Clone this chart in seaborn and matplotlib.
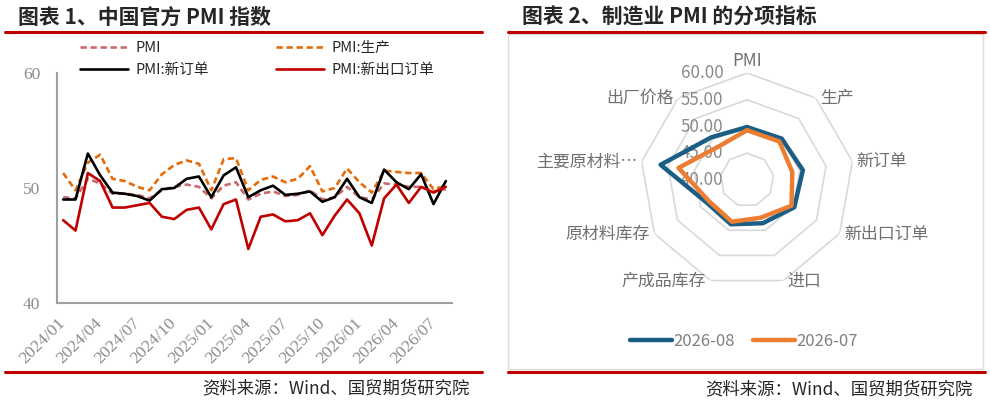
import numpy as np
import pandas as pd
import seaborn as sns
import matplotlib.pyplot as plt
from matplotlib.lines import Line2D
from matplotlib.patches import Rectangle

# monthly series, 2024/01 - 2026/08
months = pd.date_range('2024-01-01', periods=32, freq='MS').strftime('%Y/%m').tolist()
pmi = [49.2, 49.1, 50.8, 50.4, 49.5, 49.5, 49.4, 49.1, 49.8, 50.1, 50.3, 50.1,
       49.1, 50.2, 50.5, 49.0, 49.5, 49.7, 49.3, 49.4, 49.8, 49.0, 49.2, 50.1,
       49.2, 49.0, 50.4, 50.3, 50.1, 50.1, 49.7, 49.9]
production = [51.3, 49.8, 52.2, 52.9, 50.8, 50.6, 50.1, 49.8, 51.2, 52.0, 52.4, 52.1,
              49.8, 52.5, 52.6, 49.8, 50.7, 51.0, 50.5, 50.8, 51.9, 49.7, 50.0, 51.7,
              50.5, 49.6, 51.5, 51.4, 51.3, 51.3, 49.9, 50.2]
new_orders = [49.0, 49.0, 53.0, 51.1, 49.6, 49.5, 49.3, 48.9, 49.9, 50.0, 50.8, 51.0,
              49.2, 51.1, 51.8, 49.2, 49.8, 50.2, 49.4, 49.5, 49.7, 48.8, 49.2, 50.8,
              49.2, 48.7, 51.6, 50.5, 49.9, 51.2, 48.6, 50.6]
export_orders = [47.2, 46.3, 51.3, 50.6, 48.3, 48.3, 48.5, 48.7, 47.5, 47.3, 48.1, 48.3,
                 46.4, 48.6, 49.0, 44.7, 47.5, 47.7, 47.1, 47.2, 47.8, 45.9, 47.6, 49.0,
                 47.8, 45.0, 49.1, 50.3, 48.7, 50.1, 49.6, 50.1]

# radar: PMI sub-indices
radar_cats = ['PMI', '生产', '新订单', '新出口订单', '进口', '产成品库存',
              '原材料库存', '主要原材料…', '出厂价格']
aug_2026 = [49.9, 50.1, 50.6, 50.2, 48.6, 48.8, 48.6, 56.4, 50.4]
jul_2026 = [49.3, 49.4, 48.6, 49.6, 47.5, 48.3, 48.1, 53.0, 48.2]
radar_levels = [40, 45, 50, 55, 60]

sns.set_style('white')
plt.rcParams['font.family'] = ['Noto Sans CJK SC', 'DejaVu Sans']

W, H = 990, 403
fx = lambda px: px / W
fy = lambda py: 1 - py / H

fig = plt.figure(figsize=(9.9, 4.03), dpi=100)

# ---- left: line chart
ax = fig.add_axes([fx(57), fy(303), 395 / W, 230 / H])
idx = np.arange(len(months))
series = [
    ('PMI', pmi, '#c96a6e', (0, (2.4, 1.4))),
    ('PMI:生产', production, '#e46c0a', (0, (2.4, 1.4))),
    ('PMI:新订单', new_orders, '#000000', '-'),
    ('PMI:新出口订单', export_orders, '#c00000', '-'),
]
for name, vals, color, ls in series:
    sns.lineplot(x=idx, y=vals, ax=ax, color=color, linestyle=ls, lw=1.9,
                 label=name, legend=False)

ax.set_xlim(-0.5, len(months) - 0.5)
ax.set_ylim(40, 60)
ax.set_xlabel('')
ax.set_ylabel('')
for s in ['top', 'right']:
    ax.spines[s].set_visible(False)
for s in ['left', 'bottom']:
    ax.spines[s].set_color('#a0a0a0')
    ax.spines[s].set_linewidth(1.5)

ax.set_xticks(np.arange(2.5, len(months) - 1, 3))
ax.set_xticklabels([])
ax.tick_params(axis='x', which='major', direction='in', length=4, width=1.3, color='#a0a0a0')
ax.set_xticks(idx[::3], minor=True)
ax.set_xticklabels(months[::3], minor=True, rotation=45, ha='right', va='center',
                   rotation_mode='anchor', color='#8c8c8c', fontsize=12.5,
                   fontfamily='Liberation Serif')
ax.tick_params(axis='x', which='minor', length=0, pad=13)
ax.set_yticks([40, 50, 60])
ax.set_yticklabels(['40', '50', '60'], color='#8c8c8c', fontsize=12.5,
                   fontfamily='Liberation Serif')
ax.tick_params(axis='y', direction='in', length=4, width=1.3, color='#a0a0a0', pad=12)

h, l = ax.get_legend_handles_labels()
order = [0, 2, 1, 3]
fig.legend([h[i] for i in order], [l[i] for i in order], ncol=2, frameon=False,
           loc='upper left', bbox_to_anchor=(fx(80), fy(41)), borderpad=0,
           borderaxespad=0, fontsize=10.5, handlelength=3.3, handletextpad=0.5,
           columnspacing=4.6, labelspacing=0.55)

# ---- right: radar chart
ax2 = fig.add_axes([fx(640), fy(287), 214 / W, 214 / H], projection='polar')
ax2.set_theta_zero_location('N')
ax2.set_theta_direction(-1)
theta = np.linspace(0, 2 * np.pi, len(radar_cats), endpoint=False)
theta_c = np.append(theta, theta[0] + 2 * np.pi)

for lvl in radar_levels[1:]:
    ax2.plot(theta_c, [lvl] * len(theta_c), color='#d9d9d9', lw=1.2, zorder=1)

for lvl in radar_levels:
    ax2.annotate(f'{lvl:.2f}', xy=(0, lvl), xytext=(-17, 0), textcoords='offset points',
                 ha='right', va='center', fontsize=12.2, color='#8a8a8a', zorder=1)

for name, vals, color in [('2026-08', aug_2026, '#1b5e84'), ('2026-07', jul_2026, '#ed7d31')]:
    sns.lineplot(x=theta_c, y=np.append(vals, vals[0]), ax=ax2, sort=False, estimator=None,
                 color=color, lw=3.2, label=name, legend=False, zorder=3,
                 solid_joinstyle='round', solid_capstyle='round')

ax2.set_ylim(40, 60)
ax2.grid(False)
ax2.spines['polar'].set_visible(False)
ax2.set_xticks([])
ax2.set_yticks([])
ax2.set_xlabel('')
ax2.set_ylabel('')
ax2.set_facecolor('none')

for t, cat in zip(theta, radar_cats):
    s = np.sin(t)
    if abs(s) < 0.1:
        ax2.annotate(cat, xy=(t, 60), xytext=(0, 2), textcoords='offset points',
                     ha='center', va='bottom', fontsize=12.2, color='#707070')
    elif s > 0:
        ax2.annotate(cat, xy=(t, 60), xytext=(3, 0), textcoords='offset points',
                     ha='left', va='center', fontsize=12.2, color='#707070')
    else:
        ax2.annotate(cat, xy=(t, 60), xytext=(-3, 0), textcoords='offset points',
                     ha='right', va='center', fontsize=12.2, color='#707070')

h2, l2 = ax2.get_legend_handles_labels()
leg2 = fig.legend(h2, l2, ncol=2, frameon=False, loc='upper left',
                  bbox_to_anchor=(fx(630), fy(333)), borderpad=0, borderaxespad=0,
                  fontsize=12, handlelength=2.5, handletextpad=0.1, columnspacing=1.1)
for t in leg2.get_texts():
    t.set_color('#808080')

# ---- frame decorations
fig.add_artist(Rectangle((fx(508), fy(369)), (983 - 508) / W, (369 - 34) / H,
                         transform=fig.transFigure, fill=False, edgecolor='#dcdcdc', lw=1))
for x0, x1 in [(5, 482), (508, 985)]:
    for y in [32, 372]:
        fig.add_artist(Line2D([fx(x0), fx(x1)], [fy(y), fy(y)], transform=fig.transFigure,
                              color='#c00000', lw=2.2))

fig.text(fx(18), fy(17), '图表 1、中国官方 PMI 指数', fontsize=15, fontweight='bold', va='center')
fig.text(fx(522), fy(17), '图表 2、制造业 PMI 的分项指标', fontsize=15, fontweight='bold', va='center')
fig.text(fx(470), fy(388), '资料来源：Wind、国贸期货研究院', fontsize=12.5, ha='right', va='center')
fig.text(fx(973), fy(389), '资料来源：Wind、国贸期货研究院', fontsize=12.5, ha='right', va='center')

fig.savefig('out.png', dpi=100)
